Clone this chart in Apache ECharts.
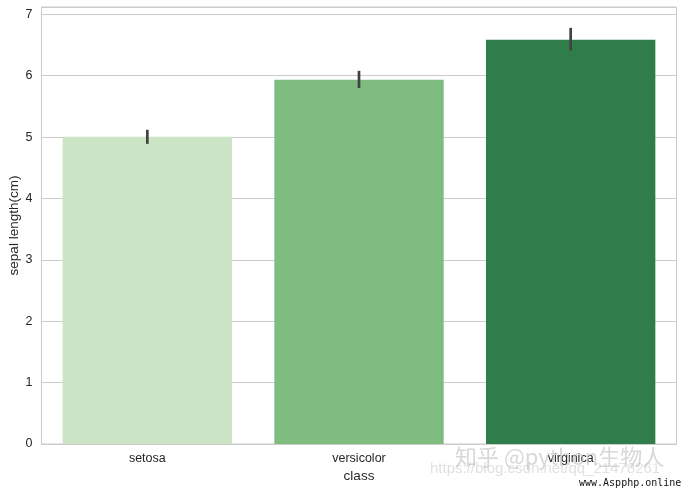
<!DOCTYPE html>
<html><head><meta charset="utf-8">
<script src="https://cdn.jsdelivr.net/npm/echarts@6/dist/echarts.min.js"></script>
<style>html,body{margin:0;padding:0;background:#fff}#c{width:683px;height:490px}</style>
</head><body><div id="c"></div>
<script>
const categories = ['setosa', 'versicolor', 'virginica'];
const meanValues = [5.006, 5.936, 6.588];
const ciLow = [4.89, 5.80, 6.41];
const ciHigh = [5.12, 6.08, 6.78];
const barColors = ['#cce4c6', '#7ebc80', '#2e7d4b'];
const yTicks = [0, 1, 2, 3, 4, 5, 6, 7];

const chart = echarts.init(document.getElementById('c'));
const font = "'Liberation Sans', Arial, sans-serif";
chart.setOption({
  animation: false,
  grid: { left: 41.5, right: 6.5, top: 7, bottom: 46, containLabel: false, outerBoundsMode: 'none',
    show: true, borderColor: '#cccccc', borderWidth: 1 },
  xAxis: {
    type: 'category', data: categories,
    name: 'class', nameLocation: 'middle', nameGap: 25, nameMoveOverlap: false,
    nameTextStyle: { color: '#262626', fontSize: 13.5, fontFamily: font },
    axisLine: { show: true, lineStyle: { color: '#cccccc' } },
    axisTick: { show: false },
    axisLabel: { color: '#262626', fontSize: 12.5, fontFamily: font, margin: 8 }
  },
  yAxis: {
    type: 'value', min: 0, max: 7.12, interval: 1,
    name: 'sepal length(cm)', nameLocation: 'middle', nameGap: 20, nameMoveOverlap: false,
    nameTextStyle: { color: '#262626', fontSize: 13.5, fontFamily: font },
    axisLine: { show: true, lineStyle: { color: '#cccccc' } },
    axisTick: { show: false },
    splitLine: { lineStyle: { color: '#cccccc', width: 1 } },
    axisLabel: { color: '#262626', fontSize: 12.5, fontFamily: font, margin: 9, showMaxLabel: false,
      formatter: v => yTicks.indexOf(v) >= 0 ? String(v) : '' }
  },
  series: [
    {
      type: 'bar', barCategoryGap: '20%',
      data: meanValues.map((v, i) => ({ value: v, itemStyle: { color: barColors[i] } })),
      z: 2
    },
    {
      type: 'custom', z: 5,
      data: categories.map((c, i) => [i, ciLow[i], ciHigh[i]]),
      renderItem: (params, api) => {
        const p1 = api.coord([api.value(0), api.value(1)]);
        const p2 = api.coord([api.value(0), api.value(2)]);
        return { type: 'line', shape: { x1: p1[0], y1: p1[1], x2: p2[0], y2: p2[1] },
          style: { stroke: '#424242', lineWidth: 2.7 } };
      }
    }
  ],
  graphic: [
    { type: 'text', left: 430, top: 461, z: 100, style: { text: 'https://blog.csdn.net/qq_21478261', fill: 'rgba(200,200,200,0.55)', font: "15px " + font } },
    { type: 'text', left: 455, top: 446, z: 101, style: { text: '知乎 @python生物人', fill: 'rgba(190,190,190,0.6)', font: "22px 'Noto Sans CJK SC', sans-serif" } },
    { type: 'text', left: 579, top: 478, z: 102, style: { text: 'www.Aspphp.online', fill: '#111', font: "10px 'DejaVu Sans Mono', monospace" } }
  ]
});
</script></body></html>
